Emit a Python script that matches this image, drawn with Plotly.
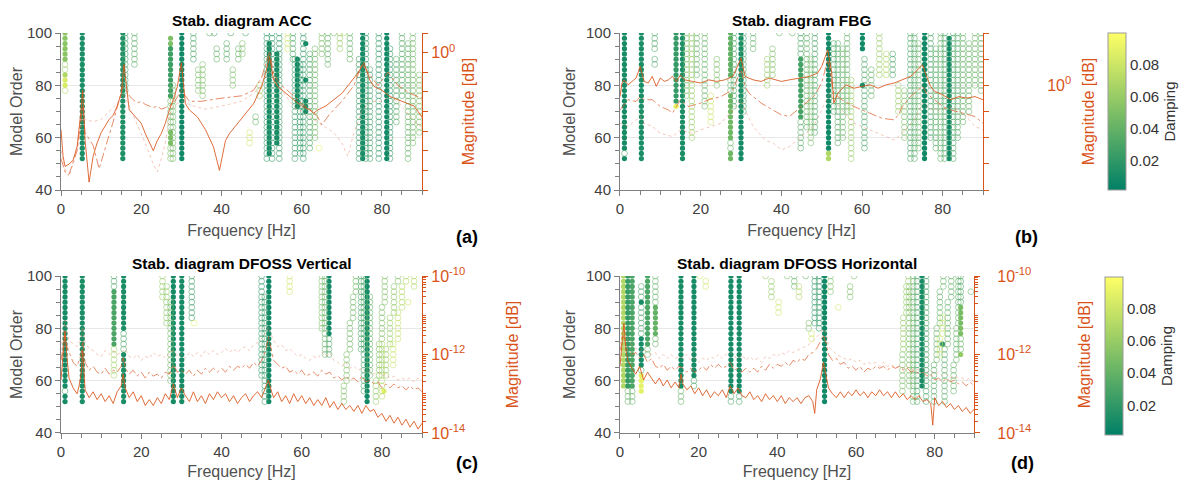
import plotly.graph_objects as go

# ---------------- data ----------------
ORDERS = list(range(52, 101, 2))          # model orders of the stabilisation diagram

# stabilisation columns: (frequency Hz, lowest order, highest order, damping, stable 1/0)
acc_cols = [
    (1.0, 90, 100, 0.055, 1), (1.0, 86, 88, 0.06, 0), (1.0, 84, 84, 0.07, 1), (1.0, 80, 82, 0.085, 1),
    (1.0, 78, 78, 0.07, 0), (5.3, 52, 100, 0.012, 1), (15.4, 52, 100, 0.014, 1), (16.0, 78, 100, 0.025, 0),
    (18.3, 88, 100, 0.035, 0), (27.3, 96, 98, 0.05, 1), (27.3, 76, 94, 0.025, 1), (27.3, 64, 74, 0.045, 0),
    (27.3, 58, 62, 0.05, 1), (27.3, 52, 56, 0.05, 0), (27.9, 52, 80, 0.045, 0), (30.1, 52, 100, 0.008, 1),
    (33.0, 90, 100, 0.03, 0), (34.2, 78, 86, 0.05, 0), (35.3, 76, 88, 0.05, 0), (37.0, 100, 100, 0.04, 0),
    (38.2, 100, 100, 0.03, 0), (38.8, 90, 94, 0.04, 0), (41.3, 90, 96, 0.035, 0), (42.3, 100, 100, 0.03, 0),
    (42.8, 80, 86, 0.05, 0), (44.2, 90, 94, 0.04, 0), (45.2, 92, 96, 0.05, 0), (47.0, 58, 62, 0.08, 0),
    (48.5, 66, 68, 0.04, 0), (46.0, 100, 100, 0.03, 0), (49.5, 76, 80, 0.06, 0), (51.3, 52, 100, 0.02, 0),
    (51.9, 54, 96, 0.008, 1), (52.6, 52, 100, 0.02, 0), (53.8, 58, 92, 0.01, 1), (54.4, 52, 100, 0.02, 0),
    (56.5, 94, 100, 0.08, 0), (57.8, 90, 100, 0.03, 0), (58.3, 52, 90, 0.025, 0), (58.9, 72, 90, 0.008, 1),
    (59.6, 54, 88, 0.02, 0), (60.4, 52, 100, 0.02, 0), (61.0, 96, 96, 0.008, 1), (61.0, 82, 82, 0.008, 1),
    (61.0, 70, 74, 0.008, 1), (62.0, 56, 92, 0.03, 0), (63.3, 60, 94, 0.045, 0), (64.3, 56, 56, 0.09, 0),
    (65.0, 92, 100, 0.05, 0), (66.5, 88, 100, 0.04, 0), (68.0, 100, 100, 0.05, 0), (69.5, 94, 100, 0.06, 0),
    (70.5, 100, 100, 0.07, 0), (72.0, 90, 100, 0.04, 0), (74.3, 52, 90, 0.025, 0), (75.2, 52, 100, 0.008, 1),
    (76.0, 52, 100, 0.02, 0), (77.0, 52, 86, 0.025, 0), (79.2, 52, 100, 0.02, 0), (81.2, 52, 100, 0.008, 1),
    (82.0, 52, 94, 0.02, 0), (83.6, 66, 90, 0.035, 0), (85.0, 76, 100, 0.035, 0), (86.5, 52, 96, 0.04, 0),
    (87.7, 58, 100, 0.045, 0), (89.3, 62, 84, 0.05, 0),
]
fbg_cols = [
    (1.1, 56, 100, 0.01, 1), (1.1, 54, 54, 0.03, 0), (1.1, 52, 52, 0.01, 1), (5.3, 52, 100, 0.012, 1),
    (8.6, 94, 100, 0.03, 0), (8.6, 88, 90, 0.03, 0), (13.9, 74, 100, 0.022, 1), (13.9, 72, 72, 0.09, 1),
    (15.5, 52, 100, 0.012, 1), (16.5, 76, 100, 0.05, 0), (17.8, 60, 100, 0.06, 0), (19.0, 84, 100, 0.04, 0),
    (21.0, 72, 100, 0.04, 0), (22.5, 66, 76, 0.08, 0), (24.0, 80, 90, 0.05, 0), (27.4, 84, 100, 0.04, 1),
    (27.4, 78, 82, 0.04, 0), (27.4, 60, 76, 0.045, 1), (27.4, 56, 58, 0.04, 0), (27.4, 52, 54, 0.045, 1),
    (28.2, 72, 100, 0.03, 0), (30.0, 52, 100, 0.01, 1), (30.6, 70, 100, 0.03, 0), (33.0, 94, 100, 0.04, 0),
    (36.5, 80, 90, 0.06, 0), (37.8, 84, 94, 0.05, 0), (39.5, 100, 100, 0.04, 0), (42.7, 100, 100, 0.045, 0),
    (44.8, 92, 100, 0.03, 0), (44.8, 68, 90, 0.028, 1), (44.8, 56, 66, 0.035, 0), (46.3, 64, 100, 0.04, 0),
    (47.3, 58, 90, 0.05, 0), (48.3, 62, 100, 0.03, 0), (51.7, 56, 100, 0.008, 1), (51.7, 52, 54, 0.07, 1),
    (53.0, 70, 96, 0.03, 0), (54.0, 58, 96, 0.035, 0), (55.2, 60, 94, 0.04, 0), (56.3, 70, 100, 0.04, 0),
    (57.3, 52, 82, 0.06, 0), (60.1, 94, 100, 0.008, 1), (60.1, 80, 80, 0.008, 1), (60.6, 56, 90, 0.03, 0),
    (62.3, 76, 86, 0.04, 0), (64.3, 84, 100, 0.06, 0), (66.0, 84, 92, 0.07, 0), (67.6, 84, 92, 0.03, 0),
    (69.0, 70, 80, 0.06, 0), (70.5, 60, 78, 0.05, 0), (72.0, 52, 100, 0.03, 0), (73.0, 52, 100, 0.035, 0),
    (74.0, 56, 96, 0.04, 0), (75.5, 52, 100, 0.008, 1), (77.0, 60, 100, 0.03, 0), (78.3, 56, 94, 0.035, 0),
    (79.5, 52, 100, 0.04, 0), (80.5, 52, 100, 0.03, 0), (81.6, 52, 98, 0.008, 1), (82.6, 52, 100, 0.03, 0),
    (83.7, 60, 100, 0.035, 0), (85.0, 66, 100, 0.04, 0), (86.5, 70, 96, 0.04, 0), (88.0, 80, 100, 0.045, 0),
    (89.5, 78, 100, 0.04, 0),
]
dv_cols = [
    (1.0, 58, 100, 0.01, 1), (1.0, 56, 56, 0.03, 0), (1.0, 52, 54, 0.01, 1), (5.3, 52, 100, 0.012, 1),
    (13.2, 96, 100, 0.03, 0), (13.2, 74, 94, 0.03, 1), (13.2, 62, 72, 0.065, 0), (15.6, 80, 100, 0.012, 1),
    (15.6, 72, 78, 0.03, 0), (15.6, 52, 70, 0.012, 1), (25.3, 92, 100, 0.06, 0), (26.3, 82, 96, 0.055, 0),
    (27.3, 60, 90, 0.045, 0), (28.0, 52, 100, 0.01, 1), (30.1, 52, 100, 0.01, 1), (32.6, 84, 100, 0.025, 0),
    (33.2, 82, 82, 0.09, 0), (50.0, 62, 100, 0.02, 0), (50.8, 52, 92, 0.025, 0), (51.8, 52, 100, 0.008, 1),
    (57.0, 94, 100, 0.08, 0), (65.0, 80, 100, 0.05, 0), (65.8, 70, 100, 0.04, 0), (66.8, 78, 100, 0.008, 1),
    (66.8, 70, 76, 0.03, 0), (70.5, 52, 58, 0.05, 0), (71.2, 60, 70, 0.05, 0), (72.0, 72, 82, 0.045, 0),
    (72.8, 84, 92, 0.045, 0), (73.5, 94, 100, 0.045, 0), (74.8, 72, 100, 0.03, 0), (75.5, 56, 100, 0.03, 0),
    (76.3, 52, 100, 0.008, 1), (77.0, 62, 92, 0.04, 0), (78.5, 52, 60, 0.06, 0), (79.3, 62, 74, 0.05, 0),
    (80.0, 76, 88, 0.05, 0), (80.7, 90, 100, 0.05, 0), (80.0, 54, 74, 0.07, 0), (80.5, 56, 56, 0.09, 1),
    (81.0, 62, 72, 0.06, 0), (82.0, 74, 84, 0.06, 0), (83.0, 86, 96, 0.055, 0), (84.0, 98, 100, 0.05, 0),
    (82.8, 66, 74, 0.08, 0), (84.0, 76, 86, 0.075, 0), (85.0, 88, 96, 0.07, 0), (86.0, 98, 100, 0.07, 0),
    (86.5, 90, 90, 0.08, 0), (88.0, 96, 100, 0.07, 0),
]
dh_cols = [
    (0.9, 58, 100, 0.07, 1), (2.0, 58, 100, 0.022, 1), (2.0, 52, 56, 0.04, 0), (3.1, 58, 100, 0.03, 1),
    (3.1, 52, 56, 0.04, 0), (5.4, 92, 96, 0.03, 0), (5.4, 90, 90, 0.01, 1), (5.4, 78, 88, 0.03, 0),
    (5.4, 66, 76, 0.01, 1), (5.4, 64, 64, 0.03, 0), (5.4, 56, 62, 0.09, 1), (7.0, 74, 100, 0.03, 1),
    (7.0, 70, 72, 0.04, 0), (9.0, 90, 100, 0.04, 0), (9.0, 78, 88, 0.04, 1), (9.0, 74, 76, 0.04, 0),
    (15.5, 58, 100, 0.01, 1), (15.5, 52, 56, 0.04, 0), (18.8, 62, 100, 0.01, 1), (18.8, 58, 60, 0.03, 0),
    (20.3, 100, 100, 0.08, 0), (21.8, 96, 98, 0.08, 0), (28.2, 56, 100, 0.01, 1), (28.2, 52, 54, 0.03, 0),
    (30.3, 56, 100, 0.01, 1), (30.3, 52, 54, 0.03, 0), (37.0, 100, 100, 0.06, 0), (38.5, 92, 98, 0.06, 0),
    (40.3, 86, 90, 0.08, 0), (42.5, 100, 100, 0.05, 0), (44.3, 96, 100, 0.04, 0), (45.5, 92, 96, 0.07, 0),
    (47.2, 100, 100, 0.04, 0), (48.0, 80, 82, 0.05, 0), (48.7, 76, 78, 0.08, 0), (49.5, 82, 100, 0.02, 0),
    (50.6, 80, 100, 0.02, 0), (52.0, 52, 100, 0.008, 1), (53.5, 94, 100, 0.05, 0), (55.5, 88, 88, 0.08, 0),
    (58.5, 92, 96, 0.05, 0), (59.5, 100, 100, 0.05, 0), (71.8, 56, 70, 0.05, 0), (72.0, 72, 84, 0.06, 0),
    (72.8, 86, 96, 0.06, 0), (73.3, 98, 100, 0.06, 0), (73.5, 58, 96, 0.05, 0), (74.5, 52, 100, 0.04, 0),
    (75.5, 52, 100, 0.03, 0), (76.8, 58, 100, 0.01, 1), (77.8, 52, 100, 0.03, 0), (79.8, 52, 66, 0.035, 0),
    (80.5, 68, 80, 0.04, 0), (81.3, 82, 94, 0.04, 0), (82.2, 96, 100, 0.04, 0), (81.3, 70, 76, 0.08, 0),
    (82.0, 78, 84, 0.08, 0), (82.5, 52, 72, 0.035, 0), (83.3, 74, 90, 0.04, 0), (84.2, 92, 100, 0.04, 0),
    (82.0, 74, 74, 0.02, 1), (84.8, 56, 66, 0.04, 0), (85.5, 68, 80, 0.04, 0), (86.0, 82, 100, 0.04, 0),
    (86.6, 90, 100, 0.03, 0), (86.6, 78, 88, 0.05, 1), (86.6, 72, 76, 0.04, 0), (86.6, 70, 70, 0.06, 1),
    (89.2, 94, 94, 0.04, 0),
]

# FRF magnitudes: (frequency Hz, log10 magnitude)
acc_solid = [(0,-0.98),(0.5,-1.32),(1,-1.45),(2,-1.42),(3,-1.37),(4,-1.2),(5,-0.73),(5.4,-0.48),(6,-1.12),(7,-1.65),
    (8,-1.32),(9,-1.15),(10,-1.02),(12,-0.85),(13,-0.8),(14,-0.68),(15,-0.52),(15.7,-0.15),(17,-0.73),(18,-0.79),
    (19,-0.84),(20,-0.9),(21,-1.03),(22,-1.15),(23,-1.25),(24,-1.12),(25,-1.03),(26,-0.9),(27,-0.73),(28,-0.6),
    (29,-0.43),(30,-0.13),(31,-0.65),(32,-0.73),(34,-0.82),(36,-0.98),(38,-1.2),(39.5,-1.5),(41,-1.12),(42,-1.03),
    (44,-0.9),(46,-0.77),(48,-0.65),(50,-0.43),(51,-0.26),(52,-0.05),(53,-0.35),(54,-0.43),(56,-0.52),(58,-0.6),
    (60,-0.68),(62,-0.73),(63,-0.77),(64,-0.73),(66,-0.68),(68,-0.6),(70,-0.52),(72,-0.39),(74,-0.26),(75.5,-0.13),
    (77,-0.35),(78,-0.43),(80,-0.48),(82,-0.56),(84,-0.6),(86,-0.65),(88,-0.68),(90,-0.82)]
acc_dash = [(0,-1.35),(1,-1.52),(2,-1.55),(4,-1.25),(5.4,-0.68),(6,-1.02),(8,-1.18),(9.5,-1.48),(11,-1.22),(13,-0.88),
    (15.5,-0.42),(17,-0.55),(18,-0.6),(19,-0.64),(20,-0.62),(21,-0.66),(22,-0.68),(23,-0.7),(24,-0.68),(25,-0.72),
    (26,-0.7),(27,-0.68),(28,-0.65),(30,-0.48),(32,-0.62),(35,-0.62),(40,-0.58),(45,-0.55),(48,-0.48),(50,-0.32),
    (52,0.02),(53,-0.28),(55,-0.42),(58,-0.55),(60,-0.65),(62,-0.72),(64,-0.82),(65,-0.92),(67,-0.78),(70,-0.62),
    (73,-0.42),(75,-0.15),(77,-0.28),(79,-0.42),(81.5,-0.25),(84,-0.42),(87,-0.52),(90,-0.58)]
acc_dot = [(0,-1.25),(1,-1.48),(2,-1.58),(4,-1.25),(5.4,-0.82),(6,-0.85),(8,-0.88),(10,-0.85),(12,-0.75),(14,-0.65),
    (15.5,-0.52),(17,-0.68),(19,-0.92),(21,-1.15),(23,-1.42),(24,-1.52),(25,-1.35),(26,-1.15),(27,-0.82),(28,-0.68),
    (30,-0.62),(33,-0.68),(36,-0.72),(40,-0.68),(45,-0.62),(48,-0.52),(50,-0.42),(52,-0.22),(54,-0.42),(56,-0.55),
    (58,-0.68),(60,-0.75),(62,-0.82),(64,-0.88),(66,-0.95),(68,-1.02),(70,-1.15),(71.5,-1.32),(73,-1.02),(75,-0.75),
    (77,-0.62),(80,-0.62),(82,-0.55),(85,-0.68),(88,-0.88),(90,-0.95)]

fbg_solid = [(0,-0.043),(0.5,0.009),(1,0.021),(2,0.002),(3,0.015),(4,0.028),(5,0.072),(6,0.015),(7,0.009),(8,0.034),
    (9,-0.004),(10,0.028),(11,0.015),(12,0.021),(13,0.034),(14,0.015),(15,0.040),(16,0.021),(18,0.015),(20,0.009),
    (22,0.021),(24,0.015),(26,0.021),(28,0.034),(30,0.104),(31,0.034),(33,0.021),(35,0.015),(37,0.028),(40,0.015),
    (42,0.021),(45,0.028),(47,0.034),(49,0.047),(50,0.072),(51.5,0.136),(52.5,0.047),(53,-0.068),(54,-0.030),
    (56,0.002),(58,-0.011),(60,-0.004),(62,0.002),(64,-0.011),(66,0.002),(68,0.009),(70,0.021),(72,0.034),
    (73,0.047),(75,0.079),(76,0.034),(77,-0.004),(78,-0.023),(80,-0.036),(82,-0.055),(84,-0.043),(86,-0.049),
    (88,-0.043),(90,-0.055)]
fbg_dash = [(0,-0.094),(2,-0.055),(4,-0.062),(5,-0.043),(6,-0.055),(8,-0.055),(10,-0.081),(12,-0.094),(13,-0.106),
    (14,-0.081),(15,-0.055),(17,-0.081),(20,-0.068),(22,-0.055),(25,-0.043),(28,-0.017),(30,0.060),(31,-0.004),
    (32,-0.030),(35,-0.068),(38,-0.094),(40,-0.113),(42,-0.119),(44,-0.094),(46,-0.068),(48,-0.043),(50,0.009),
    (51.5,0.098),(52.5,0.009),(53,-0.030),(55,-0.055),(58,-0.081),(60,-0.094),(62,-0.106),(65,-0.126),(68,-0.132),
    (69,-0.113),(70,-0.081),(72,-0.043),(74,-0.017),(75,-0.004),(76,-0.030),(78,-0.055),(80,-0.081),(82,-0.094),
    (85,-0.106),(88,-0.119),(90,-0.145)]
fbg_dot = [(0,-0.145),(2,-0.157),(4,-0.132),(5,-0.119),(6,-0.145),(8,-0.157),(10,-0.183),(13,-0.196),(15,-0.170),
    (18,-0.183),(20,-0.170),(25,-0.145),(28,-0.094),(30,-0.055),(31,-0.094),(33,-0.157),(36,-0.209),(38,-0.221),
    (40,-0.247),(42,-0.234),(45,-0.196),(48,-0.157),(50,-0.094),(52,-0.030),(53,-0.055),(55,-0.094),(58,-0.145),
    (62,-0.170),(66,-0.196),(68,-0.209),(70,-0.183),(73,-0.132),(75,-0.068),(76,-0.081),(78,-0.094),(80,-0.094),
    (82,-0.081),(85,-0.106),(88,-0.157),(90,-0.170)]

dv_solid = [(0,-12.65),(0.5,-11.9),(1,-11.4),(1.5,-12.1),(2,-12.6),(3,-12.85),(4,-13.0),(4.5,-12.8),(5,-12.5),
    (5.4,-11.9),(6,-12.9),(7,-13.1),(8,-12.95),(9,-13.15),(10,-13.0),(11,-13.2),(12,-13.05),(13,-13.25),(14,-12.95),
    (15,-12.8),(15.5,-12.5),(16,-12.85),(17,-13.1),(18,-12.95),(19,-13.2),(20,-13.05),(21,-13.3),(22,-13.15),
    (23,-13.3),(24,-13.1),(25,-13.25),(26,-13.0),(27,-13.15),(28,-12.75),(28.5,-12.95),(29,-13.1),(30,-12.85),
    (31,-13.05),(32,-13.2),(33,-12.95),(34,-13.2),(35,-13.05),(36,-13.25),(37,-13.0),(38,-13.15),(39,-12.95),
    (40,-13.1),(41,-13.0),(42,-13.2),(43,-13.05),(44,-13.25),(45,-13.1),(46,-13.0),(47,-13.2),(48,-13.05),
    (49,-12.95),(50,-13.1),(51,-12.85),(51.7,-12.65),(52.5,-12.95),(53,-13.1),(54,-12.95),(55,-13.2),(56,-13.05),
    (57,-13.25),(58,-13.0),(59,-13.2),(60,-13.05),(61,-13.25),(62,-13.1),(63,-13.3),(64,-13.15),(65,-13.3),
    (66,-13.1),(67,-13.35),(68,-13.2),(69,-13.4),(70,-13.25),(71,-13.4),(72,-13.3),(73,-13.45),(74,-13.3),
    (75,-13.5),(76,-13.3),(77,-13.45),(78,-13.4),(79,-13.6),(80,-13.5),(81,-13.7),(82,-13.55),(83,-13.75),
    (84,-13.6),(85,-13.8),(86,-13.65),(87,-13.85),(88,-13.7),(89,-13.9),(90,-13.75)]
dv_dash = [(0,-12.15),(0.5,-11.8),(1,-11.46),(1.5,-11.8),(2,-11.95),(3,-12.2),(4,-12.3),(5,-12.0),(5.4,-11.65),
    (6,-12.2),(7,-12.4),(8,-12.3),(9,-12.45),(10,-12.5),(11,-12.35),(12,-12.5),(13,-12.4),(14,-12.45),(15,-12.3),
    (15.5,-12.05),(16,-12.35),(17,-12.5),(18,-12.4),(19,-12.55),(20,-12.45),(21,-12.6),(22,-12.45),(23,-12.55),
    (24,-12.5),(25,-12.6),(26,-12.45),(27,-12.5),(28,-12.25),(29,-12.45),(30,-12.4),(31,-12.5),(32,-12.4),
    (33,-12.55),(34,-12.4),(35,-12.5),(36,-12.35),(37,-12.45),(38,-12.35),(39,-12.45),(40,-12.35),(41,-12.45),
    (42,-12.3),(43,-12.4),(44,-12.3),(45,-12.35),(46,-12.25),(47,-12.35),(48,-12.2),(49,-12.3),(50,-12.15),
    (51,-11.9),(51.7,-11.55),(52.5,-11.9),(53,-12.15),(54,-12.25),(55,-12.35),(56,-12.3),(57,-12.45),(58,-12.4),
    (59,-12.5),(60,-12.4),(61,-12.55),(62,-12.5),(63,-12.45),(64,-12.55),(65,-12.4),(66,-12.5),(67,-12.45),
    (68,-12.6),(69,-12.55),(70,-12.65),(71,-12.55),(72,-12.65),(73,-12.6),(74,-12.7),(75,-12.55),(76,-12.7),
    (77,-12.65),(78,-12.75),(79,-12.7),(80,-12.85),(81,-12.75),(82,-12.85),(83,-12.75),(84,-12.85),(85,-12.8),
    (86,-12.9),(87,-12.8),(88,-12.9),(89,-12.85),(90,-12.95)]
dv_dot = [(0,-11.9),(0.5,-11.5),(1,-11.12),(1.5,-11.45),(2,-11.65),(3,-11.72),(4,-11.8),(5,-11.6),(5.4,-11.3),
    (6,-11.7),(7,-11.85),(8,-11.9),(9,-12.0),(10,-12.05),(11,-11.9),(12,-12.0),(13,-11.9),(14,-12.0),(15,-11.95),
    (16,-11.85),(17,-12.05),(18,-12.1),(19,-12.0),(20,-12.15),(21,-12.05),(22,-12.1),(23,-11.95),(24,-12.05),
    (25,-12.0),(26,-12.1),(27,-11.95),(28,-11.9),(29,-12.05),(30,-12.0),(31,-12.1),(32,-11.95),(33,-12.05),
    (34,-11.95),(35,-12.05),(36,-11.9),(37,-12.0),(38,-11.9),(39,-12.0),(40,-11.95),(41,-11.85),(42,-11.95),
    (43,-11.85),(44,-11.95),(45,-11.85),(46,-11.8),(47,-11.9),(48,-11.75),(49,-11.7),(50,-11.6),(51,-11.45),
    (51.7,-11.3),(52.5,-11.5),(53,-11.65),(54,-11.8),(55,-11.75),(56,-11.9),(57,-11.85),(58,-11.95),(59,-12.05),
    (60,-12.0),(61,-12.1),(62,-12.15),(63,-12.05),(64,-12.1),(65,-11.95),(66,-12.05),(67,-11.95),(68,-12.15),
    (69,-12.2),(70,-12.3),(71,-12.2),(72,-12.35),(73,-12.3),(74,-12.4),(75,-12.35),(76,-12.45),(77,-12.4),
    (78,-12.5),(79,-12.45),(80,-12.55),(81,-12.5),(82,-12.6),(83,-12.55),(84,-12.65),(85,-12.6),(86,-12.65),
    (87,-12.6),(88,-12.7),(89,-12.6),(90,-12.65)]

dh_solid = [(0,-12.3),(0.5,-11.8),(1,-11.2),(1.5,-11.9),(2,-12.15),(3,-12.35),(4,-12.5),(5,-12.3),(6,-12.65),
    (7,-12.45),(8,-12.6),(9,-12.75),(10,-12.6),(11,-12.8),(12,-12.65),(13,-12.85),(14,-12.7),(15,-12.85),
    (15.5,-12.5),(16,-12.75),(17,-12.9),(18,-12.8),(19,-13.0),(20,-12.85),(21,-13.05),(22,-12.9),(23,-13.1),
    (24,-12.95),(25,-13.05),(26,-12.9),(27,-13.1),(28,-12.8),(29,-13.0),(30,-12.85),(31,-13.05),(32,-13.1),
    (33,-12.95),(34,-13.15),(35,-13.05),(36,-13.2),(37,-13.0),(38,-13.15),(39,-13.05),(40,-13.2),(41,-13.05),
    (42,-13.25),(43,-13.1),(44,-13.2),(45,-13.1),(46,-13.25),(47,-13.1),(48,-13.05),(49,-13.2),(49.5,-13.5),
    (50,-12.9),(51,-12.6),(51.7,-12.2),(52.5,-12.6),(53,-12.85),(54,-13.0),(55,-13.1),(56,-12.95),(57,-13.1),
    (58,-12.95),(59,-13.05),(60,-12.9),(61,-13.05),(62,-12.95),(63,-13.1),(64,-12.95),(65,-13.05),(66,-12.9),
    (67,-13.05),(68,-12.95),(69,-13.1),(70,-12.95),(71,-13.1),(72,-13.0),(73,-13.15),(74,-13.05),(75,-13.15),
    (76,-13.05),(77,-13.2),(78,-13.15),(79,-13.25),(79.5,-13.8),(80,-13.1),(81,-13.3),(82,-13.2),(83,-13.35),
    (84,-13.25),(85,-13.4),(86,-13.3),(87,-13.45),(88,-13.35),(89,-13.5),(90,-13.4)]
dh_dash = [(0,-11.9),(0.5,-11.7),(1,-11.5),(1.5,-11.75),(2,-11.9),(3,-12.0),(4,-11.95),(5,-12.1),(6,-12.0),
    (7,-12.2),(8,-12.1),(9,-12.3),(10,-12.35),(11,-12.25),(12,-12.4),(13,-12.3),(14,-12.4),(15,-12.3),(16,-12.35),
    (17,-12.45),(18,-12.35),(19,-12.45),(20,-12.4),(21,-12.3),(22,-12.4),(23,-12.25),(24,-12.35),(25,-12.25),
    (26,-12.35),(27,-12.3),(28,-12.2),(29,-12.4),(30,-12.35),(31,-12.45),(32,-12.35),(33,-12.45),(34,-12.35),
    (35,-12.45),(36,-12.3),(37,-12.4),(38,-12.25),(39,-12.35),(40,-12.25),(41,-12.3),(42,-12.2),(43,-12.3),
    (44,-12.15),(45,-12.2),(46,-12.1),(47,-12.15),(48,-12.0),(49,-11.95),(50,-11.85),(51,-11.65),(51.7,-11.5),
    (52.5,-11.75),(53,-12.0),(54,-12.15),(55,-12.1),(56,-12.25),(57,-12.2),(58,-12.35),(59,-12.3),(60,-12.4),
    (61,-12.3),(62,-12.45),(63,-12.35),(64,-12.4),(65,-12.3),(66,-12.35),(67,-12.3),(68,-12.4),(69,-12.3),
    (70,-12.35),(71,-12.3),(72,-12.4),(73,-12.35),(74,-12.45),(75,-12.4),(76,-12.5),(77,-12.45),(78,-12.55),
    (79,-12.5),(80,-12.65),(81,-12.6),(82,-12.7),(83,-12.6),(84,-12.7),(85,-12.65),(86,-12.75),(87,-12.7),
    (88,-12.8),(89,-12.7),(90,-12.8)]
dh_dot = [(0,-11.75),(0.5,-11.5),(1,-11.3),(1.5,-11.5),(2,-11.65),(3,-11.75),(4,-11.85),(5,-11.9),(6,-11.85),
    (7,-11.95),(8,-12.0),(9,-11.95),(10,-12.1),(11,-12.0),(12,-12.1),(13,-12.0),(14,-12.1),(15,-12.05),(16,-12.1),
    (17,-12.0),(18,-12.15),(19,-12.1),(20,-12.2),(21,-12.1),(22,-12.15),(23,-12.05),(24,-12.1),(25,-12.0),
    (26,-12.1),(27,-12.0),(28,-11.95),(29,-12.05),(30,-12.1),(31,-12.0),(32,-12.15),(33,-12.05),(34,-12.15),
    (35,-12.1),(36,-12.2),(37,-12.05),(38,-12.1),(39,-12.0),(40,-12.05),(41,-11.95),(42,-12.0),(43,-11.9),
    (44,-11.95),(45,-11.9),(46,-11.85),(47,-11.8),(48,-11.75),(49,-11.65),(50,-11.55),(51,-11.45),(51.7,-11.35),
    (52.5,-11.5),(53,-11.8),(54,-11.9),(55,-12.0),(56,-12.05),(57,-12.1),(58,-12.15),(59,-12.1),(60,-12.2),
    (61,-12.15),(62,-12.25),(63,-12.2),(64,-12.25),(65,-12.2),(66,-12.3),(67,-12.2),(68,-12.3),(69,-12.25),
    (70,-12.35),(71,-12.3),(72,-12.35),(73,-12.3),(74,-12.4),(75,-12.35),(76,-12.4),(77,-12.35),(78,-12.45),
    (79,-12.4),(80,-12.5),(81,-12.45),(82,-12.55),(83,-12.5),(84,-12.6),(85,-12.55),(86,-12.6),(87,-12.6),
    (88,-12.65),(89,-12.6),(90,-12.7)]

titles = ["Stab. diagram ACC", "Stab. diagram FBG", "Stab. diagram DFOSS Vertical", "Stab. diagram DFOSS Horizontal"]
panel_tags = ["(a)", "(b)", "(c)", "(d)"]
damping_ticks = [0.02, 0.04, 0.06, 0.08]

# ---------------- styling ----------------
FONT = "Liberation Sans, Arial, Helvetica, sans-serif"
ORANGE = "#D95319"
AXIS_GRAY = "#7f7f7f"
TEXT_GRAY = "#404040"
SUMMER = [[0, "rgb(0,128,102)"], [1, "rgb(255,255,102)"]]

# the page body keeps its default 8 px margin, so the figure is 16 px smaller than the window
W, H = 1181, 472

panels = [
    dict(cols=acc_cols, curves=(acc_solid, acc_dash, acc_dot), xd=[0.0449, 0.3506], yd=[0.6144, 0.9470],
         yr=[-1.75, 0.25], cax="coloraxis", tag_xy=(0.3887, 0.5148), standoff=8, lblshift=0),
    dict(cols=fbg_cols, curves=(fbg_solid, fbg_dash, fbg_dot), xd=[0.5182, 0.8256], yd=[0.6144, 0.9470],
         yr=[-0.4, 0.2], cax="coloraxis", tag_xy=(0.8628, 0.5148), standoff=12, lblshift=55),
    dict(cols=dv_cols, curves=(dv_solid, dv_dash, dv_dot), xd=[0.0449, 0.3506], yd=[0.0996, 0.4322],
         yr=[-14, -10], cax="coloraxis2", tag_xy=(0.3887, 0.0360), standoff=42, lblshift=0),
    dict(cols=dh_cols, curves=(dh_solid, dh_dash, dh_dot), xd=[0.5182, 0.8180], yd=[0.0996, 0.4322],
         yr=[-14, -10], cax="coloraxis2", tag_xy=(0.8586, 0.0360), standoff=48, lblshift=14),
]

line_styles = [
    dict(color="rgba(217,83,25,0.95)", width=0.9, dash="solid"),
    dict(color="rgba(222,95,45,0.8)", width=0.9, dash="dashdot"),
    dict(color="rgba(232,130,100,0.45)", width=1.0, dash="dot"),
]

def cbar(yc, ln, x):
    return dict(x=x, xanchor="left", xpad=0, y=yc, yanchor="middle", ypad=0, len=ln, lenmode="fraction",
                thickness=18, tickvals=damping_ticks, ticks="", outlinecolor="#9a9a9a", outlinewidth=1,
                tickfont=dict(size=15, color="#333"),
                title=dict(text="Damping", side="right", font=dict(size=15, color="#333")))

fig = go.Figure()
layout = dict(
    width=W, height=H, margin=dict(l=0, r=0, t=0, b=0, autoexpand=False),
    paper_bgcolor="white", plot_bgcolor="white", showlegend=False,
    font=dict(family=FONT, color=TEXT_GRAY, size=14),
    coloraxis=dict(colorscale=SUMMER, cmin=0.0015, cmax=0.1, colorbar=cbar(0.7807, 0.3326, 0.9314)),
    coloraxis2=dict(colorscale=SUMMER, cmin=0.0015, cmax=0.1, colorbar=cbar(0.2627, 0.3347, 0.9289)),
)

annotations = []
for i, p in enumerate(panels, start=1):
    xs, ys = ("x" if i == 1 else f"x{i}"), ("y" if i == 1 else f"y{i}")
    y2 = f"y{i+4}"
    # stabilisation markers
    for stable in (1, 0):
        fx, fy, fc = [], [], []
        for freq, lo, hi, damp, st in p["cols"]:
            if st != stable:
                continue
            for order in ORDERS:
                if lo <= order <= hi:
                    fx.append(freq); fy.append(order); fc.append(damp)
        fig.add_trace(go.Scatter(
            x=fx, y=fy, mode="markers", xaxis=xs, yaxis=ys,
            marker=dict(symbol="circle" if stable else "circle-open", size=5.2 if stable else 5.8,
                        color=fc, coloraxis=p["cax"], line=dict(width=0.8 if not stable else 0),
                        opacity=1.0 if stable else 0.7),
            hoverinfo="skip"))
    # FRF curves on the right log axis
    for curve, st in zip(p["curves"], line_styles):
        cx = [c[0] for c in curve]
        cy = [10 ** c[1] for c in curve]
        fig.add_trace(go.Scatter(x=cx, y=cy, mode="lines", xaxis=xs, yaxis=y2, line=st, hoverinfo="skip"))

    key = "" if i == 1 else str(i)
    layout[f"xaxis{key}"] = dict(
        domain=p["xd"], range=[0, 90], anchor=ys, tickvals=[0, 20, 40, 60, 80], ticks="outside", ticklen=5,
        tickcolor=AXIS_GRAY, showline=True, linecolor=AXIS_GRAY, linewidth=1, showgrid=False, zeroline=False,
        automargin=False,
        minor=dict(dtick=5, tick0=0, ticks="outside", ticklen=4, tickcolor=AXIS_GRAY),
        tickfont=dict(size=15, color=TEXT_GRAY),
        title=dict(text="Frequency [Hz]", font=dict(size=16, color="#505050"), standoff=8))
    layout[f"yaxis{key}"] = dict(
        domain=p["yd"], range=[40, 100], anchor=xs, tickvals=[40, 60, 80, 100], ticks="outside", ticklen=5,
        tickcolor=AXIS_GRAY, showline=True, linecolor=AXIS_GRAY, linewidth=1, showgrid=True, gridcolor="#e8e8e8",
        zeroline=False, automargin=False,
        minor=dict(dtick=5, tick0=40, ticks="outside", ticklen=4, tickcolor=AXIS_GRAY),
        tickfont=dict(size=15, color=TEXT_GRAY),
        title=dict(text="Model Order", font=dict(size=16, color="#505050"), standoff=6))
    lo, hi = p["yr"]
    if i == 1:
        tv = [10 ** (lo + k * 0.25) for k in range(9)]
        tt = ["10<sup>0</sup>" if abs(lo + k * 0.25) < 1e-9 else "" for k in range(9)]
        minor = None
    elif i == 2:
        tv = [10 ** (lo + k * 0.1) for k in range(7)]
        tt = ["10<sup>0</sup>" if abs(lo + k * 0.1) < 1e-9 else "" for k in range(7)]
        minor = None
    else:
        tv = [1e-14, 1e-12, 1e-10]
        tt = ["10<sup>-14</sup>", "10<sup>-12</sup>", "10<sup>-10</sup>"]
        minor = dict(tickvals=[m * 10 ** d for d in range(-14, -10) for m in range(1, 10)],
                     ticks="outside", ticklen=3, tickcolor=ORANGE)
    ax2 = dict(
        type="log", range=[lo, hi], overlaying=ys, side="right", anchor=xs, showgrid=False, zeroline=False,
        showline=True, linecolor=ORANGE, linewidth=1, ticks="outside", ticklen=5, tickcolor=ORANGE,
        automargin=False, tickvals=tv, ticktext=tt, tickfont=dict(size=16, color=ORANGE),
        ticklabelstandoff=p["lblshift"],
        title=dict(text="Magnitude [dB]", font=dict(size=16, color=ORANGE), standoff=p["standoff"]))
    if minor:
        ax2["minor"] = minor
    layout[f"yaxis{i+4}"] = ax2

    xc = (p["xd"][0] + p["xd"][1]) / 2
    annotations.append(dict(text=f"<b>{titles[i-1]}</b>", x=xc, y=p["yd"][1] + 0.004, xref="paper", yref="paper",
                            xanchor="center", yanchor="bottom", showarrow=False,
                            font=dict(size=15.5, color="black", family=FONT)))
    annotations.append(dict(text=f"<b>{panel_tags[i-1]}</b>", x=p["tag_xy"][0], y=p["tag_xy"][1],
                            xref="paper", yref="paper", xanchor="center", yanchor="middle",
                            showarrow=False, font=dict(size=18, color="black", family=FONT)))

layout["annotations"] = annotations
fig.update_layout(**layout)
fig.write_html("out.html")
